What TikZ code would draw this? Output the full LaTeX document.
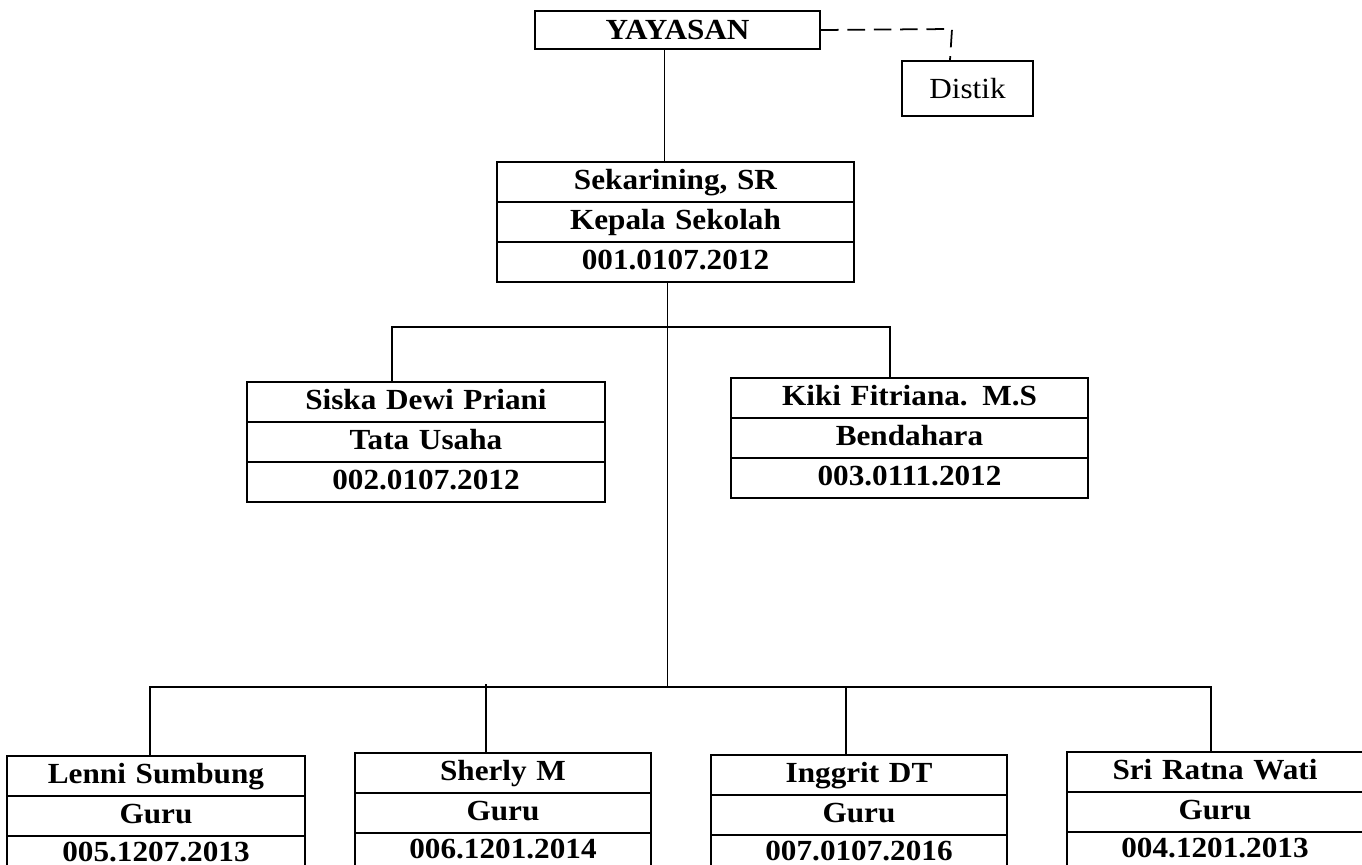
\documentclass[tikz,border=0pt]{standalone}
\usepackage{fontspec}
\setmainfont{Liberation Serif}[FakeStretch=1.07]
\usetikzlibrary{shapes.multipart}
\newcommand{\rowstrut}{\rule[-6.5pt]{0pt}{21.5pt}}
\newcommand{\lastrowstrut}{\rule[-7.8pt]{0pt}{21.5pt}}

\begin{document}
\begin{tikzpicture}[
  x=0.02cm, y=-0.02cm,
  staff/.style={rectangle split,rectangle split parts=3,draw=black,line width=1.25pt,
    inner xsep=0pt,inner ysep=0pt,text width=#1,align=center,anchor=north,
    font=\fontsize{16.6}{19}\selectfont\bfseries},
  plainbox/.style={draw=black,line width=1.25pt,inner sep=0pt,align=center,
    font=\fontsize{16.6}{19}\selectfont},
  link/.style={draw=black,line width=1pt},
  dashlink/.style={link,dash pattern=on 10pt off 5pt}
]
\useasboundingbox (0,0) rectangle (1362,865);

\node[plainbox,minimum width=5.7cm,minimum height=.76cm,font=\fontsize{16.6}{19}\selectfont\bfseries] (yay) at (677.5,30) {YAYASAN};
\node[plainbox,minimum width=2.62cm,minimum height=1.1cm] (distik) at (967.5,88.5) {Distik};

\node[staff=7.14cm] (kepsek) at (675.5,161) {\rowstrut Sekarining, SR\nodepart{two}\rowstrut Kepala Sekolah\nodepart{three}\rowstrut 001.0107.2012};
\node[staff=7.16cm] (tu) at (426,381) {\rowstrut Siska Dewi Priani\nodepart{two}\rowstrut Tata Usaha\nodepart{three}\rowstrut 002.0107.2012};
\node[staff=7.14cm] (bend) at (909.5,377) {\rowstrut Kiki Fitriana. M.S\nodepart{two}\rowstrut Bendahara\nodepart{three}\rowstrut 003.0111.2012};

\node[staff=5.96cm] (guru1) at (156,755) {\rowstrut Lenni Sumbung\nodepart{two}\rowstrut Guru\nodepart{three}\lastrowstrut 005.1207.2013};
\node[staff=5.92cm] (guru2) at (503,752) {\rowstrut Sherly M\nodepart{two}\rowstrut Guru\nodepart{three}\lastrowstrut 006.1201.2014};
\node[staff=5.92cm] (guru3) at (859,754) {\rowstrut Inggrit DT\nodepart{two}\rowstrut Guru\nodepart{three}\lastrowstrut 007.0107.2016};
\node[staff=5.92cm] (guru4) at (1215,751) {\rowstrut Sri Ratna Wati\nodepart{two}\rowstrut Guru\nodepart{three}\lastrowstrut 004.1201.2013};

% yayasan -> kepala sekolah, distik
\coordinate (j0) at ([xshift=-0.26cm]yay.south);
\draw[link] (j0) -- (j0 |- kepsek.north);
\coordinate (dk) at (952,29);
\draw[dashlink] (yay.east) -- (dk) -- ([xshift=-0.35cm]distik.north);

% staf
\coordinate (trunk) at ([xshift=-0.16cm]kepsek.south);
\coordinate (tuJ) at (392,327);
\coordinate (bendJ) at (890,327);
\draw[link] (tuJ |- tu.north) -- (tuJ) -- (bendJ) -- (bendJ |- bend.north);

% guru
\coordinate (g1J) at (150,687);
\coordinate (g4J) at (1211,687);
\coordinate (g2J) at (486,684);
\coordinate (g3J) at (846,687);
\draw[link] (trunk) -- (trunk |- g1J);
\draw[link] (g1J |- guru1.north) -- (g1J) -- (g4J) -- (g4J |- guru4.north);
\draw[link] (g2J) -- (g2J |- guru2.north);
\draw[link] (g3J) -- (g3J |- guru3.north);
\end{tikzpicture}
\end{document}
